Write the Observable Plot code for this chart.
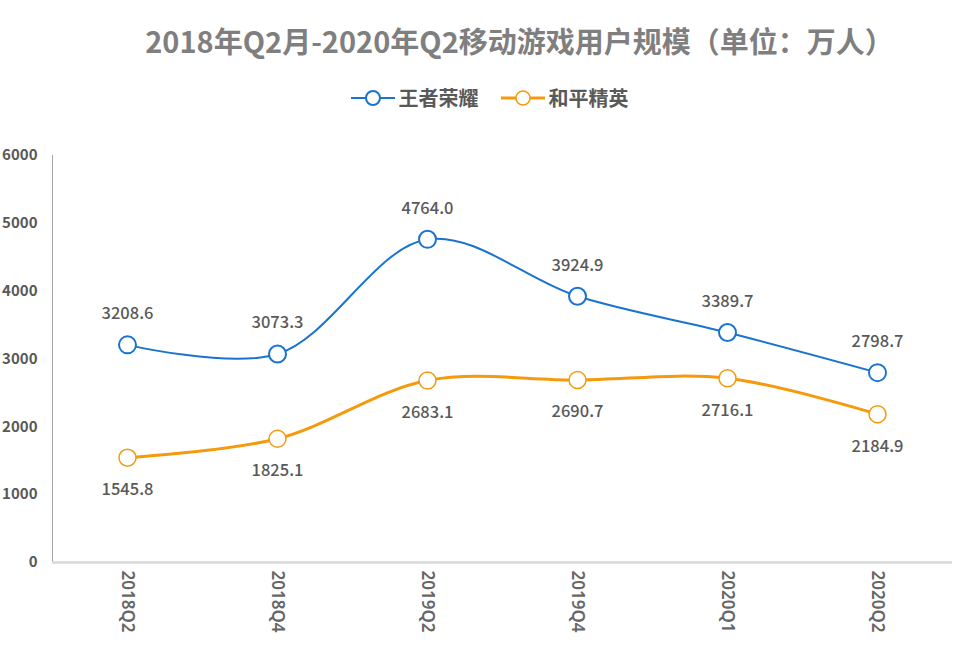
<!DOCTYPE html>
<html><head><meta charset="utf-8">
<script src="https://cdn.jsdelivr.net/npm/d3@7"></script>
<script src="https://cdn.jsdelivr.net/npm/@observablehq/plot@0.6"></script>
<style>
body{margin:0;background:#fff;font-family:"Noto Sans CJK SC","Noto Sans",sans-serif;}
#title{height:80px;line-height:80px;text-align:center;font-size:29px;font-weight:bold;color:#7f7f7f;padding-left:86px;}
#legend{height:50px;display:flex;justify-content:center;align-items:flex-start;gap:22px;font-size:20px;font-weight:bold;color:#595959;padding-left:26px;}
#legend .item{display:flex;align-items:center;gap:4px;line-height:36px;}
</style></head>
<body>
<div id="title">2018年Q2月-2020年Q2移动游戏用户规模（单位：万人）</div>
<div id="legend"></div>
<div id="chart"></div>
<script>
const quarters = ["2018Q2","2018Q4","2019Q2","2019Q4","2020Q1","2020Q2"];
const seriesNames = ["王者荣耀","和平精英"];
const wangzhe = [3208.6,3073.3,4764.0,3924.9,3389.7,2798.7];
const heping = [1545.8,1825.1,2683.1,2690.7,2716.1,2184.9];
const yTicks = [0,1000,2000,3000,4000,5000,6000];
const colors = ["#1a73d0","#f59a0c"];

const rows = [];
quarters.forEach((q,i)=>{
  rows.push({q, v: wangzhe[i], s: seriesNames[0]});
  rows.push({q, v: heping[i], s: seriesNames[1]});
});
const blue = rows.filter(d=>d.s===seriesNames[0]);
const orange = rows.filter(d=>d.s===seriesNames[1]);

// legend
const lg = document.getElementById("legend");
seriesNames.forEach((n,i)=>{
  const it = document.createElement("div"); it.className="item";
  it.innerHTML = `<svg width="44" height="20"><line x1="0" y1="10" x2="44" y2="10" stroke="${colors[i]}" stroke-width="${i?3:2}"/><circle cx="22" cy="10" r="7" fill="#fff" stroke="${colors[i]}" stroke-width="${i?1.5:2}"/></svg><span>${n}</span>`;
  lg.appendChild(it);
});

const plot = Plot.plot({
  width: 953, height: 524,
  marginLeft: 52, marginRight: 1, marginTop: 25, marginBottom: 92,
  style: {fontFamily: '"Noto Sans CJK SC","Noto Sans",sans-serif', color:"#595959", background:"#fff"},
  x: {type:"band", domain: quarters, padding: 0, label: null},
  y: {domain:[0,6000], label:null},
  marks: [
    Plot.frame({anchor:"left", stroke:"#a6a6a6", strokeWidth:1}),
    Plot.ruleY([0], {stroke:"#d9d9d9", strokeWidth:2.5}),
    Plot.axisY({ticks: yTicks, tickFormat: d=>String(d), tickSize:0, tickPadding:15, fontSize:15, fontWeight:"bold", fill:"#595959", label:null}),
    Plot.axisX({tickSize:0, tickRotate:90, tickPadding:8, fontSize:17, fontFamily:"Noto Sans", fontWeight:600, fill:"#666", label:null, textAnchor:"start"}),
    Plot.line(blue, {x:"q", y:"v", stroke:colors[0], strokeWidth:2, curve:"catmull-rom"}),
    Plot.line(orange, {x:"q", y:"v", stroke:colors[1], strokeWidth:3, curve:"catmull-rom"}),
    Plot.dot(blue, {x:"q", y:"v", r:8.5, fill:"#fff", stroke:colors[0], strokeWidth:2}),
    Plot.dot(orange, {x:"q", y:"v", r:8.5, fill:"#fff", stroke:colors[1], strokeWidth:1.5}),
    Plot.text(blue, {x:"q", y:"v", text: d=>d.v.toFixed(1), dy:-31, fontSize:16.5, fontWeight:500, fill:"#595959"}),
    Plot.text(orange, {x:"q", y:"v", text: d=>d.v.toFixed(1), dy:32, fontSize:16.5, fontWeight:500, fill:"#595959"})
  ]
});
document.getElementById("chart").appendChild(plot);
</script>
</body></html>
